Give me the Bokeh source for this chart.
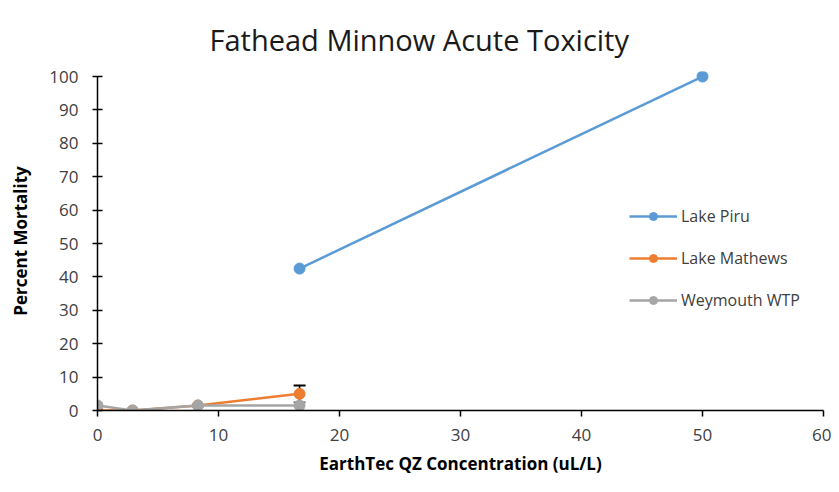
from bokeh.plotting import figure
from bokeh.models import Range1d, Legend, LegendItem, Whisker, ColumnDataSource, FixedTicker
from bokeh.embed import file_html
from bokeh.resources import INLINE

title_text = "Fathead Minnow Acute Toxicity"
piru_x = [16.7, 50]
piru_y = [42.5, 100]
mathews_x = [0, 2.9, 8.3, 16.7]
mathews_y = [0, 0, 1.5, 5]
mathews_err = [0, 0, 0, 2.5]
weymouth_x = [0, 2.9, 8.3, 16.7]
weymouth_y = [1.5, 0, 1.5, 1.5]

FONT = "Open Sans"
p = figure(width=831, height=484, output_backend="svg", toolbar_location=None,
           x_range=Range1d(0, 60), y_range=Range1d(0, 101.5),
           min_border_left=97, min_border_right=8, min_border_top=71, min_border_bottom=74)
p.outline_line_color = None
p.xgrid.visible = False
p.ygrid.visible = False

p.title.text = title_text
p.title.text_font = FONT
p.title.text_font_size = "29px"
p.title.text_font_style = "normal"
p.title.text_color = "#1a1a1a"
p.title.align = "left"
p.title.offset = 112
p.title.standoff = 25

for ax in (p.xaxis[0], p.yaxis[0]):
    ax.axis_line_color = "black"
    ax.axis_line_width = 1.5
    ax.major_tick_line_color = "black"
    ax.major_tick_line_width = 1.5
    ax.minor_tick_line_color = None
    ax.major_label_text_font = FONT
    ax.major_label_text_font_size = "17px"
    ax.major_label_text_color = "#404040"
    ax.axis_label_text_font = FONT
    ax.axis_label_text_font_size = "17px"
    ax.axis_label_text_font_style = "bold"
    ax.axis_label_text_color = "black"

p.yaxis.bounds = (0, 100)
p.xaxis.ticker = FixedTicker(ticks=[0, 10, 20, 30, 40, 50, 60])
p.yaxis.ticker = FixedTicker(ticks=list(range(0, 101, 10)))
p.xaxis.major_tick_in = 0
p.xaxis.major_tick_out = 6
p.yaxis.major_tick_in = 5
p.yaxis.major_tick_out = 5
p.xaxis.axis_label = "EarthTec QZ Concentration (uL/L)"
p.yaxis.axis_label = "Percent Mortality"
p.xaxis.major_label_standoff = 12
p.yaxis.major_label_standoff = 14
p.xaxis.axis_label_standoff = 8
p.yaxis.axis_label_standoff = 14

c_piru, c_math, c_wey = "#5B9BD5", "#ED7D31", "#A5A5A5"

src_m = ColumnDataSource(dict(x=mathews_x, y=mathews_y,
                              lo=[y - e for y, e in zip(mathews_y, mathews_err)],
                              hi=[y + e for y, e in zip(mathews_y, mathews_err)]))
w = Whisker(source=src_m, base="x", lower="lo", upper="hi", line_color="black", line_width=1.5)
w.upper_head.line_color = "black"
w.upper_head.line_width = 2
w.upper_head.size = 12
w.lower_head.line_color = "black"
w.lower_head.size = 12
p.add_layout(w)

l1 = p.line(piru_x, piru_y, line_color=c_piru, line_width=2.5)
m1 = p.scatter(piru_x, piru_y, marker="circle", size=11, fill_color=c_piru, line_color=c_piru)
l2 = p.line("x", "y", source=src_m, line_color=c_math, line_width=2.5)
m2 = p.scatter("x", "y", source=src_m, marker="circle", size=11, fill_color=c_math, line_color=c_math)
l3 = p.line(weymouth_x, weymouth_y, line_color=c_wey, line_width=2.5)
m3 = p.scatter(weymouth_x, weymouth_y, marker="circle", size=11, fill_color=c_wey, line_color=c_wey)

legend = Legend(items=[
    LegendItem(label="Lake Piru", renderers=[l1, m1]),
    LegendItem(label="Lake Mathews", renderers=[l2, m2]),
    LegendItem(label="Weymouth WTP", renderers=[l3, m3]),
], location=(532, 99))
legend.border_line_color = None
legend.background_fill_alpha = 0
legend.label_text_font = FONT
legend.label_text_font_size = "16px"
legend.label_text_color = "#404040"
legend.spacing = 20
legend.glyph_width = 48
legend.label_standoff = 4
p.add_layout(legend)

open("out.html", "w").write(file_html(p, INLINE))
